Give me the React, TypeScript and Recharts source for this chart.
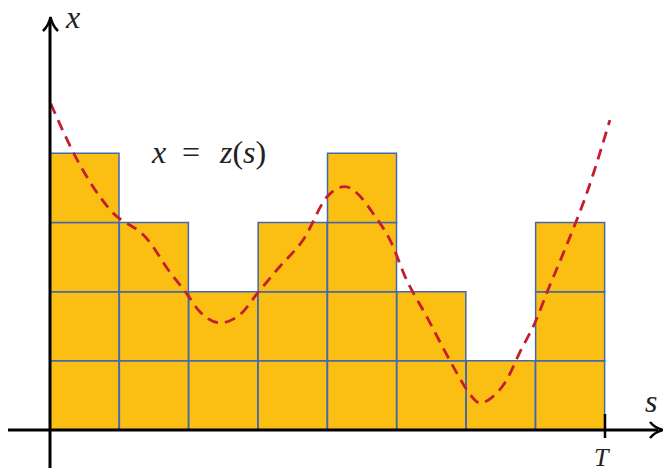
import { ComposedChart, Bar, Line, XAxis, YAxis } from "recharts";

// step heights of the piecewise-constant approximation, one per column
const columns = ["1", "2", "3", "4", "5", "6", "7", "8"];
const heights = [4, 3, 2, 3, 4, 2, 1, 3];

// sampled points of the curve x = z(s)
const curveS = [
  0.01, 0.39, 0.86, 1.41, 1.73, 1.95, 2.16, 2.45, 2.74, 3.0, 3.31, 3.65, 4.0,
  4.25, 4.47, 4.65, 4.9, 5.14, 5.43, 5.66, 5.86, 6.01, 6.2, 6.38, 6.58, 6.77,
  6.99, 7.18, 7.45, 7.74, 8.07,
];
const curveX = [
  4.72, 3.91, 3.19, 2.75, 2.28, 2.0, 1.71, 1.55, 1.67, 1.99, 2.36, 2.75, 3.38,
  3.52, 3.38, 3.14, 2.75, 2.17, 1.64, 1.2, 0.83, 0.58, 0.39, 0.48, 0.72, 1.12,
  1.55, 2.03, 2.68, 3.43, 4.48,
];

const levels = [1, 2, 3, 4];

// each column is split into unit cells, stacked on top of each other
const barData = columns.map((c, i) => {
  const row: { [key: string]: string | number } = { col: c };
  levels.forEach((k) => {
    row["u" + k] = heights[i] >= k ? 1 : 0;
  });
  return row;
});

const curveData = curveS.map((s, i) => ({ s, x: curveX[i] }));

// plot spans 613px, the 8 columns take 555px of it
const PLOT_W = 613;
const COLS_W = 555;
const sMax = (columns.length * PLOT_W) / COLS_W;

const FILL = "#FBBF13";
const EDGE = "#4268AE";
const RED = "#C41E2E";
const math = {
  fontFamily: '"Times New Roman", "Liberation Serif", "DejaVu Serif", "Noto Serif", Times, serif',
};

export default function App() {
  return (
    <div style={{ position: "absolute", left: 0, top: 0, width: 663, height: 472, background: "#fff" }}>
      <ComposedChart
        width={663}
        height={472}
        data={barData}
        margin={{ top: 15, right: 0, bottom: 42, left: 50 }}
        barCategoryGap={0}
        barGap={0}
      >
        <XAxis
          xAxisId="col"
          dataKey="col"
          type="category"
          hide
          padding={{ left: 0, right: PLOT_W - COLS_W }}
        />
        <XAxis xAxisId="s" dataKey="s" type="number" domain={[0, sMax]} allowDataOverflow hide />
        <YAxis type="number" domain={[0, 6]} allowDataOverflow hide />
        {levels.map((k) => (
          <Bar
            key={k}
            xAxisId="col"
            dataKey={"u" + k}
            stackId="cells"
            fill={FILL}
            stroke={EDGE}
            strokeWidth={1.5}
            isAnimationActive={false}
          />
        ))}
        <Line
          xAxisId="s"
          data={curveData}
          dataKey="x"
          type="monotone"
          stroke={RED}
          strokeWidth={2.8}
          strokeDasharray="11 7"
          dot={false}
          activeDot={false}
          isAnimationActive={false}
        />
      </ComposedChart>

      {/* axes with arrow heads and labels */}
      <svg
        width={663}
        height={472}
        style={{ position: "absolute", left: 0, top: 0, pointerEvents: "none" }}
      >
        <line x1={8} y1={430} x2={658} y2={430} stroke="#000" strokeWidth={3} />
        <path d="M 650 422 Q 655 428 663 430 Q 655 432 650 438" fill="none" stroke="#000" strokeWidth={2.5} />
        <line x1={50} y1={468} x2={50} y2={22} stroke="#000" strokeWidth={3} />
        <path d="M 43 31 Q 49 25 50.5 17 Q 52 25 58 31" fill="none" stroke="#000" strokeWidth={2.5} />
        <line x1={605} y1={414} x2={605} y2={438} stroke="#000" strokeWidth={2.5} />

        <text x={66} y={28} style={math} fontStyle="italic" fontSize={32} fill="#222">
          x
        </text>
        <text x={645} y={412} style={math} fontStyle="italic" fontSize={32} fill="#222">
          s
        </text>
        <text x={594} y={466} style={math} fontStyle="italic" fontSize={26} fill="#222">
          T
        </text>
        <text y={163} style={math} fontSize={32} fill="#222">
          <tspan x={152} fontStyle="italic">x</tspan>
          <tspan x={182}>=</tspan>
          <tspan x={220} fontStyle="italic">z</tspan>
          <tspan>(</tspan>
          <tspan fontStyle="italic">s</tspan>
          <tspan>)</tspan>
        </text>
      </svg>
    </div>
  );
}
